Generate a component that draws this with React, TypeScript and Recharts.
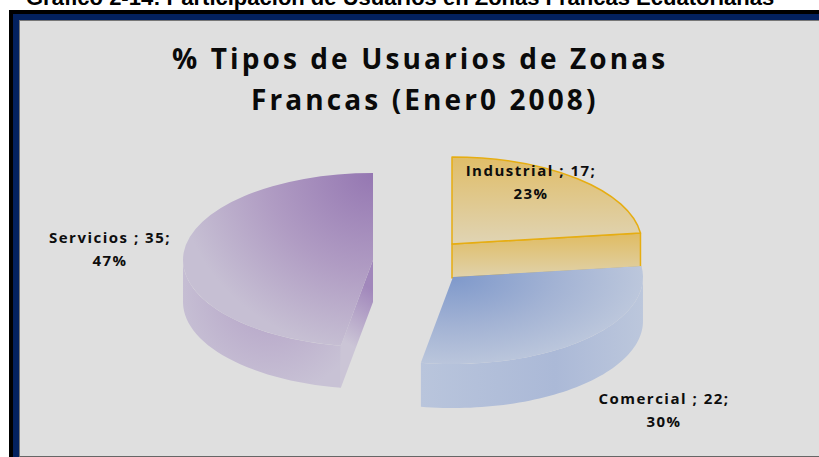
import React from "react";
import { PieChart, Pie, Cell } from "recharts";

const categories = ["Industrial", "Comercial", "Servicios"];
const values = [17, 22, 35];
const pageCaption = "Gráfico 2-14: Participación de Usuarios en Zonas Francas Ecuatorianas";
const titleLines = ["% Tipos de Usuarios de Zonas", "Francas (Ener0 2008)"];

const rows = categories.map((name, i) => ({ name, value: values[i] }));

const WIDTH = 819;
const HEIGHT = 457;
const RX = 190;
const RY_RATIO = 87 / 190;
const CX = 410;
const CY = 260;

// Exploded 3D look: per-slice offset from the chart centre and extrusion depth
const sliceStyles = [
  { dx: 42, dy: -16, depth: 34, top: "url(#indTop)", side: "url(#indSide)", end: "url(#indSide)", stroke: "#e6ad12" },
  { dx: 43, dy: 17, depth: 44, top: "url(#comTop)", side: "url(#comSide)", end: "url(#comSide)", stroke: "none" },
  { dx: -37, dy: 0, depth: 42, top: "url(#serTop)", side: "url(#serSide)", end: "url(#serEnd)", stroke: "none" },
];

const labelStyles = [
  { x: 531, y: 176 },
  { x: 664, y: 404 },
  { x: 110, y: 243 },
];

function Slice3D(props: any) {
  const { cx, cy, outerRadius, startAngle, endAngle, index, name } = props;
  const idx = index ?? categories.indexOf(name);
  const s = sliceStyles[idx];
  const rx = outerRadius;
  const ry = outerRadius * RY_RATIO;
  const ox = cx + s.dx;
  const oy = cy + s.dy;
  const pt = (deg: number, d = 0): [number, number] => {
    const a = (deg * Math.PI) / 180;
    return [ox + rx * Math.cos(a), oy - ry * Math.sin(a) + d];
  };
  const [sx, sy] = pt(startAngle);
  const [ex, ey] = pt(endAngle);
  const large = Math.abs(endAngle - startAngle) > 180 ? 1 : 0;
  const topPath = `M${ox},${oy} L${sx},${sy} A${rx},${ry} 0 ${large} 1 ${ex},${ey} Z`;

  // the outer wall is only visible on the front half of the ellipse (180..360 deg)
  const norm = (deg: number) => ((deg % 360) + 360) % 360;
  const steps: number[] = [];
  const n = 64;
  for (let i = 0; i <= n; i++) {
    const d = startAngle + ((endAngle - startAngle) * i) / n;
    const nd = norm(d);
    if (nd >= 180 || nd === 0) steps.push(d);
  }
  let wall = "";
  if (steps.length > 1) {
    const up = steps.map((d) => pt(d));
    const down = steps.slice().reverse().map((d) => pt(d, s.depth));
    wall = "M" + up.concat(down).map((p) => p.join(",")).join(" L") + " Z";
  }

  const stroke = s.stroke;
  const sw = stroke === "none" ? 0 : 1.5;

  // flat cut faces
  let cut = "";
  if (idx === 0) {
    const [a, b] = pt(endAngle, s.depth);
    cut = `M${ox},${oy} L${ex},${ey} L${a},${b} L${ox},${oy + s.depth} Z`;
  } else if (idx === 2) {
    const [a, b] = pt(startAngle, s.depth);
    cut = `M${ox},${oy} L${sx},${sy} L${a},${b} L${ox},${oy + s.depth} Z`;
  }

  return (
    <g>
      {cut && <path d={cut} fill={s.end} stroke={stroke} strokeWidth={sw} strokeLinejoin="round" />}
      {wall && <path d={wall} fill={s.side} stroke="none" />}
      <path d={topPath} fill={s.top} stroke={stroke} strokeWidth={sw} strokeLinejoin="round" />
    </g>
  );
}

function SliceLabel(props: any) {
  const { name, value, percent, index } = props;
  const p = labelStyles[index ?? categories.indexOf(name)];
  return (
    <text
      x={p.x}
      y={p.y}
      textAnchor="middle"
      fontFamily="'Open Sans'"
      fontWeight={700}
      fontSize={15}
      letterSpacing={1.5}
      fill="#0d0d0d"
    >
      <tspan x={p.x}>{`${name} ; ${value};`}</tspan>
      <tspan x={p.x} dy={22.5}>{`${Math.round(percent * 100)}%`}</tspan>
    </text>
  );
}

export default function App() {
  return (
    <div style={{ position: "absolute", left: 0, top: 0, width: WIDTH, height: HEIGHT, overflow: "hidden", background: "#ffffff" }}>
      <div style={{ position: "absolute", left: 9, top: 10, width: WIDTH, height: HEIGHT, background: "#000000" }} />
      <div style={{ position: "absolute", left: 13, top: 14, width: WIDTH, height: HEIGHT, background: "#03215f" }} />
      <div
        style={{
          position: "absolute",
          left: 19,
          top: 20,
          width: WIDTH,
          height: 437,
          background: "#dfdfdf",
          borderLeft: "1px solid #777",
          borderTop: "1px solid #777",
          borderBottom: "1px solid #666",
          boxSizing: "border-box",
        }}
      />
      <div
        style={{
          position: "absolute",
          left: 26,
          top: -14,
          whiteSpace: "nowrap",
          fontFamily: "'Liberation Sans'",
          fontWeight: 700,
          fontSize: 22,
          lineHeight: "24px",
          color: "#000",
        }}
      >
        {pageCaption}
      </div>
      <div style={{ position: "absolute", left: 0, top: 0 }}>
        <PieChart width={WIDTH} height={HEIGHT} margin={{ top: 0, right: 0, bottom: 0, left: 0 }}>
          <defs>
            <linearGradient id="indTop" x1="0" y1="0" x2="0" y2="1">
              <stop offset="0" stopColor="#e0bd68" />
              <stop offset="1" stopColor="#e0d4b4" />
            </linearGradient>
            <linearGradient id="indSide" x1="0" y1="0" x2="0" y2="1">
              <stop offset="0" stopColor="#e0bc62" />
              <stop offset="1" stopColor="#e0d2ac" />
            </linearGradient>
            <radialGradient id="comTop" gradientUnits="userSpaceOnUse" cx="0" cy="0" r="1" gradientTransform="translate(453 277) scale(190 90)">
              <stop offset="0" stopColor="#7f99cb" />
              <stop offset="0.55" stopColor="#a3b3d4" />
              <stop offset="1" stopColor="#bcc7dc" />
            </radialGradient>
            <linearGradient id="comSide" gradientUnits="userSpaceOnUse" x1="421" y1="0" x2="644" y2="0">
              <stop offset="0" stopColor="#b9c5dc" />
              <stop offset="0.6" stopColor="#abb9d7" />
              <stop offset="1" stopColor="#bcc7dc" />
            </linearGradient>
            <radialGradient id="serTop" gradientUnits="userSpaceOnUse" cx="0" cy="0" r="1" gradientTransform="translate(373 173) scale(195 178)">
              <stop offset="0" stopColor="#9577b2" />
              <stop offset="0.55" stopColor="#b09cc3" />
              <stop offset="1" stopColor="#c6bfd3" />
            </radialGradient>
            <radialGradient id="serSide" gradientUnits="userSpaceOnUse" cx="0" cy="0" r="1" gradientTransform="translate(270 290) scale(100 105)">
              <stop offset="0" stopColor="#b3a0c6" />
              <stop offset="1" stopColor="#c8c2d5" />
            </radialGradient>
            <linearGradient id="serEnd" gradientUnits="userSpaceOnUse" x1="342" y1="340" x2="373" y2="290">
              <stop offset="0" stopColor="#cbc5d6" />
              <stop offset="1" stopColor="#a187bb" />
            </linearGradient>
          </defs>
          <Pie
            data={rows}
            dataKey="value"
            nameKey="name"
            cx={CX}
            cy={CY}
            innerRadius={0}
            outerRadius={RX}
            startAngle={90}
            endAngle={-270}
            paddingAngle={0}
            stroke="none"
            isAnimationActive={false}
            shape={Slice3D}
            inactiveShape={Slice3D}
            label={SliceLabel}
            labelLine={false}
          >
            {rows.map((r) => (
              <Cell key={r.name} />
            ))}
          </Pie>
          <text
            textAnchor="start"
            fontFamily="'Open Sans'"
            fontWeight={700}
            fontSize={28}
            letterSpacing={3.1}
            fill="#0a0a0a"
          >
            <tspan x={172} y={69}>{titleLines[0]}</tspan>
            <tspan x={251} y={110}>{titleLines[1]}</tspan>
          </text>
        </PieChart>
      </div>
    </div>
  );
}
